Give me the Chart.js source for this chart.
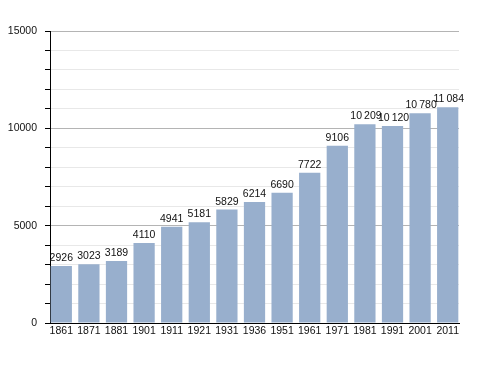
<!DOCTYPE html>
<html>
<head>
<meta charset="utf-8">
<script src="https://cdn.jsdelivr.net/npm/chart.js@4/dist/chart.umd.min.js"></script>
<style>
  html, body { margin: 0; padding: 0; background: #fff; }
  #wrap { width: 488px; height: 373px; }
</style>
</head>
<body>
<div id="wrap"><canvas id="grafico" width="488" height="373"></canvas></div>
<script>
const annees = ["1861", "1871", "1881", "1901", "1911", "1921", "1931", "1936", "1951", "1961", "1971", "1981", "1991", "2001", "2011"];
const population = [2926, 3023, 3189, 4110, 4941, 5181, 5829, 6214, 6690, 7722, 9106, 10209, 10120, 10780, 11084];
const ticksY = [0, 5000, 10000, 15000];

// nombre avec espace des milliers (seulement au-dela de 9999)
function fmt(v) {
    const s = String(v);
    if (s.length <= 4) return s;
    return s.slice(0, s.length - 3) + "\u2009" + s.slice(s.length - 3);
}

const etiquettes = {
    id: 'etiquettes',
    // les barres vont presque jusqu'aux bords de la zone
    afterLayout(chart) {
        const x = chart.scales.x;
        x._startPixel -= 2.5;
        x._length += 5;
    },
    afterDatasetsDraw(chart) {
        const ctx = chart.ctx;
        const meta = chart.getDatasetMeta(0);
        ctx.save();
        ctx.font = '10.5px "Liberation Sans", Arial, sans-serif';
        ctx.fillStyle = '#111';
        ctx.textBaseline = 'alphabetic';
        ctx.textAlign = 'left';
        meta.data.forEach((bar, i) => {
            const v = population[i];
            const w = ctx.measureText(String(v)).width;
            ctx.fillText(fmt(v), bar.x - w / 2, bar.y - 5);
        });
        ctx.restore();
    }
};

new Chart(document.getElementById('grafico'), {
    type: 'bar',
    data: {
        labels: annees,
        datasets: [{
            data: population,
            backgroundColor: '#98afcd',
            borderWidth: 0,
            barPercentage: 0.77,
            categoryPercentage: 1.0
        }]
    },
    plugins: [etiquettes],
    options: {
        responsive: false,
        animation: false,
        layout: { padding: { top: 31, right: 29, left: 0, bottom: 0 } },
        plugins: { legend: { display: false }, tooltip: { enabled: false } },
        scales: {
            x: {
                offset: true,
                grid: { display: false, drawTicks: false },
                border: { display: true, color: '#000', width: 1 },
                ticks: {
                    color: '#111',
                    padding: 2,
                    maxRotation: 0,
                    autoSkip: false,
                    font: { family: '"Liberation Sans", Arial, sans-serif', size: 10.5 }
                },
                afterFit(scale) { scale.height = 50; }
            },
            y: {
                min: 0,
                max: 15000,
                ticks: {
                    stepSize: 1000,
                    color: '#111',
                    padding: 8,
                    font: { family: '"Liberation Sans", Arial, sans-serif', size: 10.5 },
                    callback: (v) => ticksY.includes(v) ? String(v) : ''
                },
                grid: {
                    color: (c) => (c.tick && c.tick.value % 5000 === 0) ? '#b4b4b4' : '#e8e8e8',
                    tickColor: '#000',
                    tickLength: 5,
                    lineWidth: 1
                },
                border: { display: true, color: '#000', width: 1 },
                afterFit(scale) { scale.width = 50; }
            }
        }
    }
});
</script>
</body>
</html>
